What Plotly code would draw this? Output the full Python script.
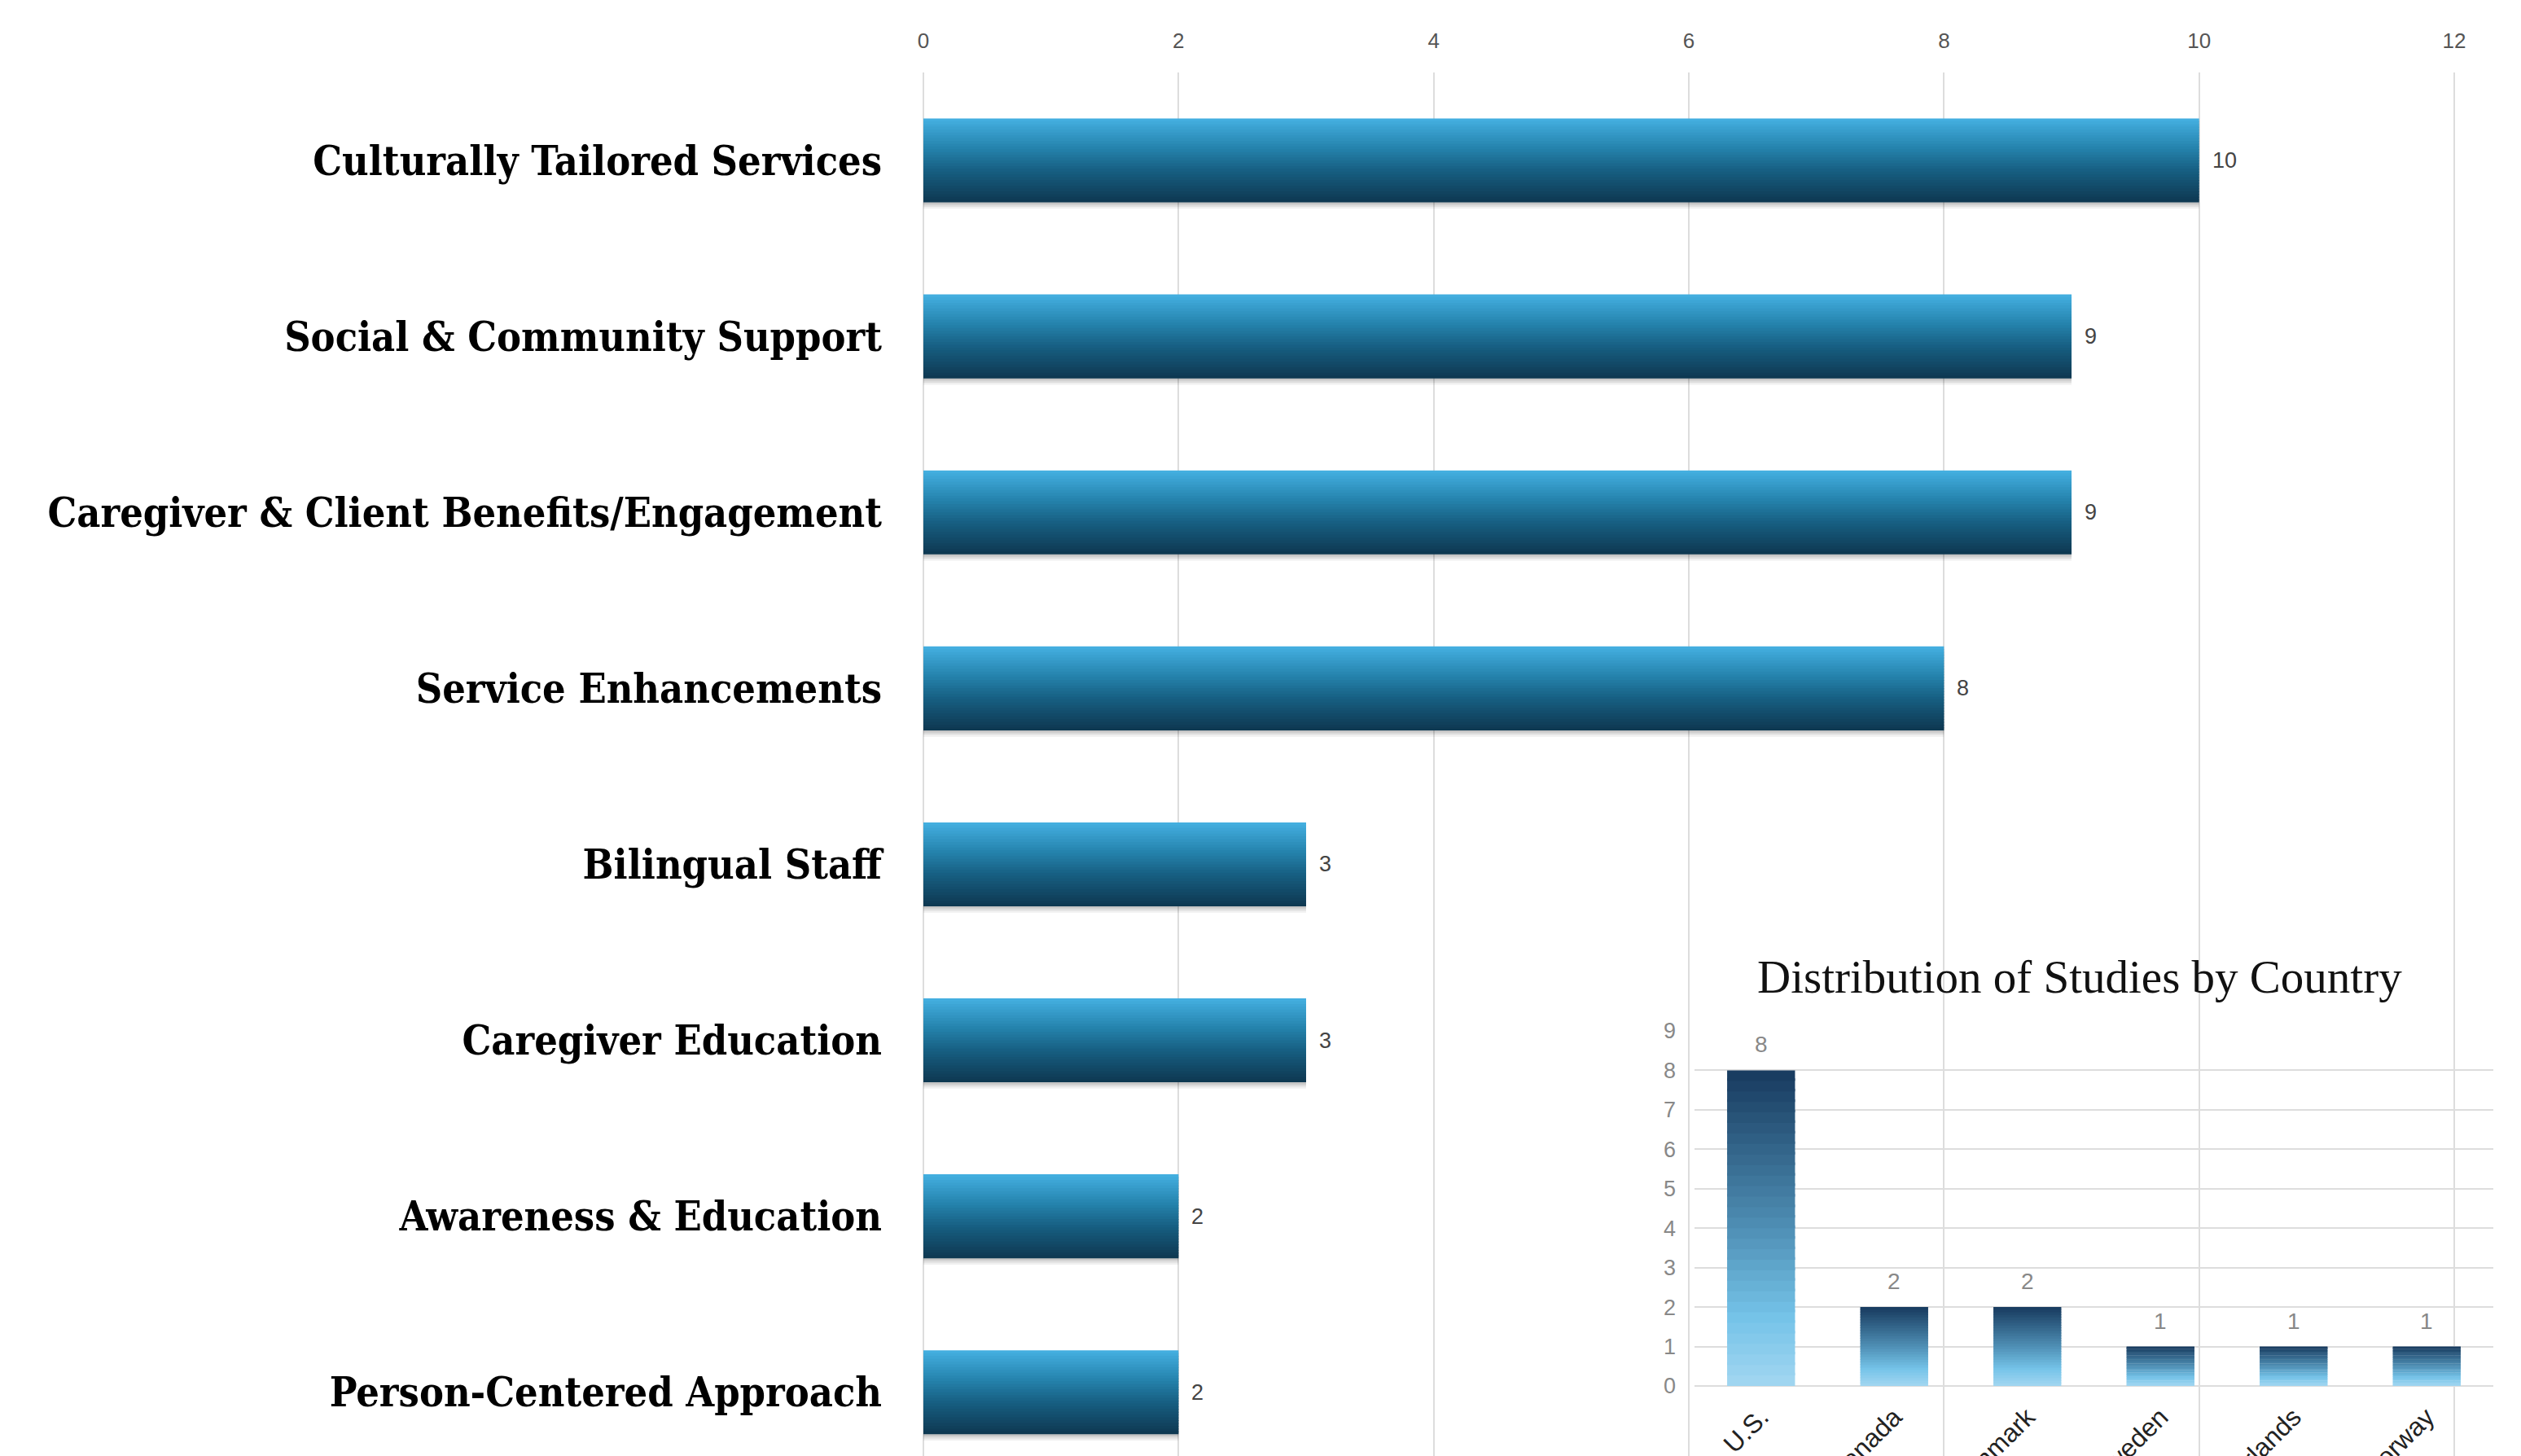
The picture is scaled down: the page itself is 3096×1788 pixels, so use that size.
import plotly.graph_objects as go
import plotly.colors as pc

# ---------------- data ----------------
categories = ["Culturally Tailored Services", "Social & Community Support",
              "Caregiver & Client Benefits/Engagement", "Service Enhancements",
              "Bilingual Staff", "Caregiver Education", "Awareness & Education",
              "Person-Centered Approach"]
values = [10, 9, 9, 8, 3, 3, 2, 2]

countries = ["U.S.", "Canada", "Denmark", "Sweden", "Netherlands", "Norway"]
counts = [8, 2, 2, 1, 1, 1]

x_ticks = [0, 2, 4, 6, 8, 10, 12]
inset_ticks = list(range(0, 10))

# ---------------- styling ----------------
W, H = 3096, 1788
OFF = 8            # page body margin compensation
TOP = 89 - OFF
main_scale = [[0, "#44b0e2"], [0.35, "#2583ad"], [0.62, "#175f82"], [1, "#0e3750"]]
inset_scale = [[0, "#173a5e"], [0.5, "#4f8fb5"], [0.78, "#74c3e8"], [1, "#a2d6f1"]]
N = 30
bw = 0.477
iw = 0.51
px_per_unit = 156.67
px_per_cat = 216.1
x0 = 1134 - OFF
plot_h = H - TOP

fig = go.Figure()

# shadows for main bars
for i, a in enumerate([0.10, 0.08, 0.06]):
    d = 0.012 * (i + 1)
    fig.add_trace(go.Bar(
        y=categories, x=values, orientation="h",
        offset=-bw / 2 + d, width=bw,
        marker=dict(color=f"rgba(0,0,0,{a})", line=dict(width=0)),
        hoverinfo="skip", showlegend=False, xaxis="x", yaxis="y"))

# main bars (vertical gradient across bar thickness via thin slices)
for k in range(N):
    t = (k + 0.5) / N
    col = pc.sample_colorscale(main_scale, [t])[0]
    fig.add_trace(go.Bar(
        y=categories, x=values, orientation="h",
        offset=-bw / 2 + k * bw / N, width=bw / N * (1.25 if k < N - 1 else 1.0),
        marker=dict(color=col, line=dict(width=0)),
        hoverinfo="skip", showlegend=False, xaxis="x", yaxis="y"))

# inset bars (gradient along bar height via stacked segments)
for k in range(N):
    t = 1 - (k + 0.5) / N
    col = pc.sample_colorscale(inset_scale, [t])[0]
    seg = [v / N * (1.25 if k < N - 1 else 1.0) for v in counts]
    base = [v * k / N for v in counts]
    fig.add_trace(go.Bar(
        x=countries, y=seg, base=base,
        offset=-iw / 2, width=iw,
        marker=dict(color=col, line=dict(width=0)),
        hoverinfo="skip", showlegend=False, xaxis="x2", yaxis="y2"))

annotations = []
for c, v in zip(categories, values):
    annotations.append(dict(x=v, y=c, xref="x", yref="y", text=str(v),
                            showarrow=False, xanchor="left", xshift=14,
                            font=dict(family="Liberation Sans", size=27, color="#444444")))
for c, v in zip(countries, counts):
    annotations.append(dict(x=c, y=v, xref="x2", yref="y2", text=str(v),
                            showarrow=False, yanchor="bottom", yshift=14,
                            font=dict(family="Liberation Sans", size=28, color="#888888")))

annotations.append(dict(
    x=(2554 - OFF) / W, y=(H - (1199 - OFF)) / plot_h, xref="paper", yref="paper",
    text="Distribution of Studies by Country", showarrow=False,
    xanchor="center", yanchor="middle",
    font=dict(family="Liberation Serif", size=57, color="#111111")))

fig.update_layout(
    width=W, height=H,
    margin=dict(l=0, r=0, t=TOP, b=0, autoexpand=False),
    paper_bgcolor="white", plot_bgcolor="rgba(0,0,0,0)",
    barmode="overlay", showlegend=False,
    annotations=annotations,
    xaxis=dict(domain=[x0 / W, 1], range=[0, (W - x0) / px_per_unit], side="top", automargin=False,
               tickvals=x_ticks, showgrid=True, gridcolor="#dddddd", gridwidth=2,
               zeroline=True, zerolinecolor="#dddddd", zerolinewidth=2,
               showline=False, ticks="", ticklabelstandoff=24,
               tickfont=dict(family="Liberation Sans", size=26, color="#555555")),
    yaxis=dict(domain=[0, 1], range=[plot_h / px_per_cat - 0.5, -0.5], type="category", automargin=False,
               categoryorder="array", categoryarray=categories,
               showgrid=False, zeroline=False, showline=False, ticks="",
               ticklabelstandoff=50,
               tickfont=dict(family="DejaVu Serif Condensed, DejaVu Serif", size=50,
                             color="#000000", weight="bold")),
    xaxis2=dict(domain=[(2081 - OFF) / W, (3062 - OFF) / W], anchor="y2", range=[-0.5, 5.5],
                automargin=False,
                showgrid=False, zeroline=False, showline=False, ticks="",
                tickangle=-45, ticklabelstandoff=12,
                tickfont=dict(family="Liberation Sans", size=32, color="#222222")),
    yaxis2=dict(domain=[(H - (1702 - OFF)) / plot_h, (H - (1266 - OFF)) / plot_h], anchor="x2",
                automargin=False,
                range=[0, 9], tickvals=inset_ticks,
                showgrid=True, gridcolor="#dddddd", gridwidth=2,
                zeroline=True, zerolinecolor="#dddddd", zerolinewidth=2,
                showline=False, ticks="", ticklabelstandoff=22,
                tickfont=dict(family="Liberation Sans", size=27, color="#888888")),
)

fig.write_html("out.html")
